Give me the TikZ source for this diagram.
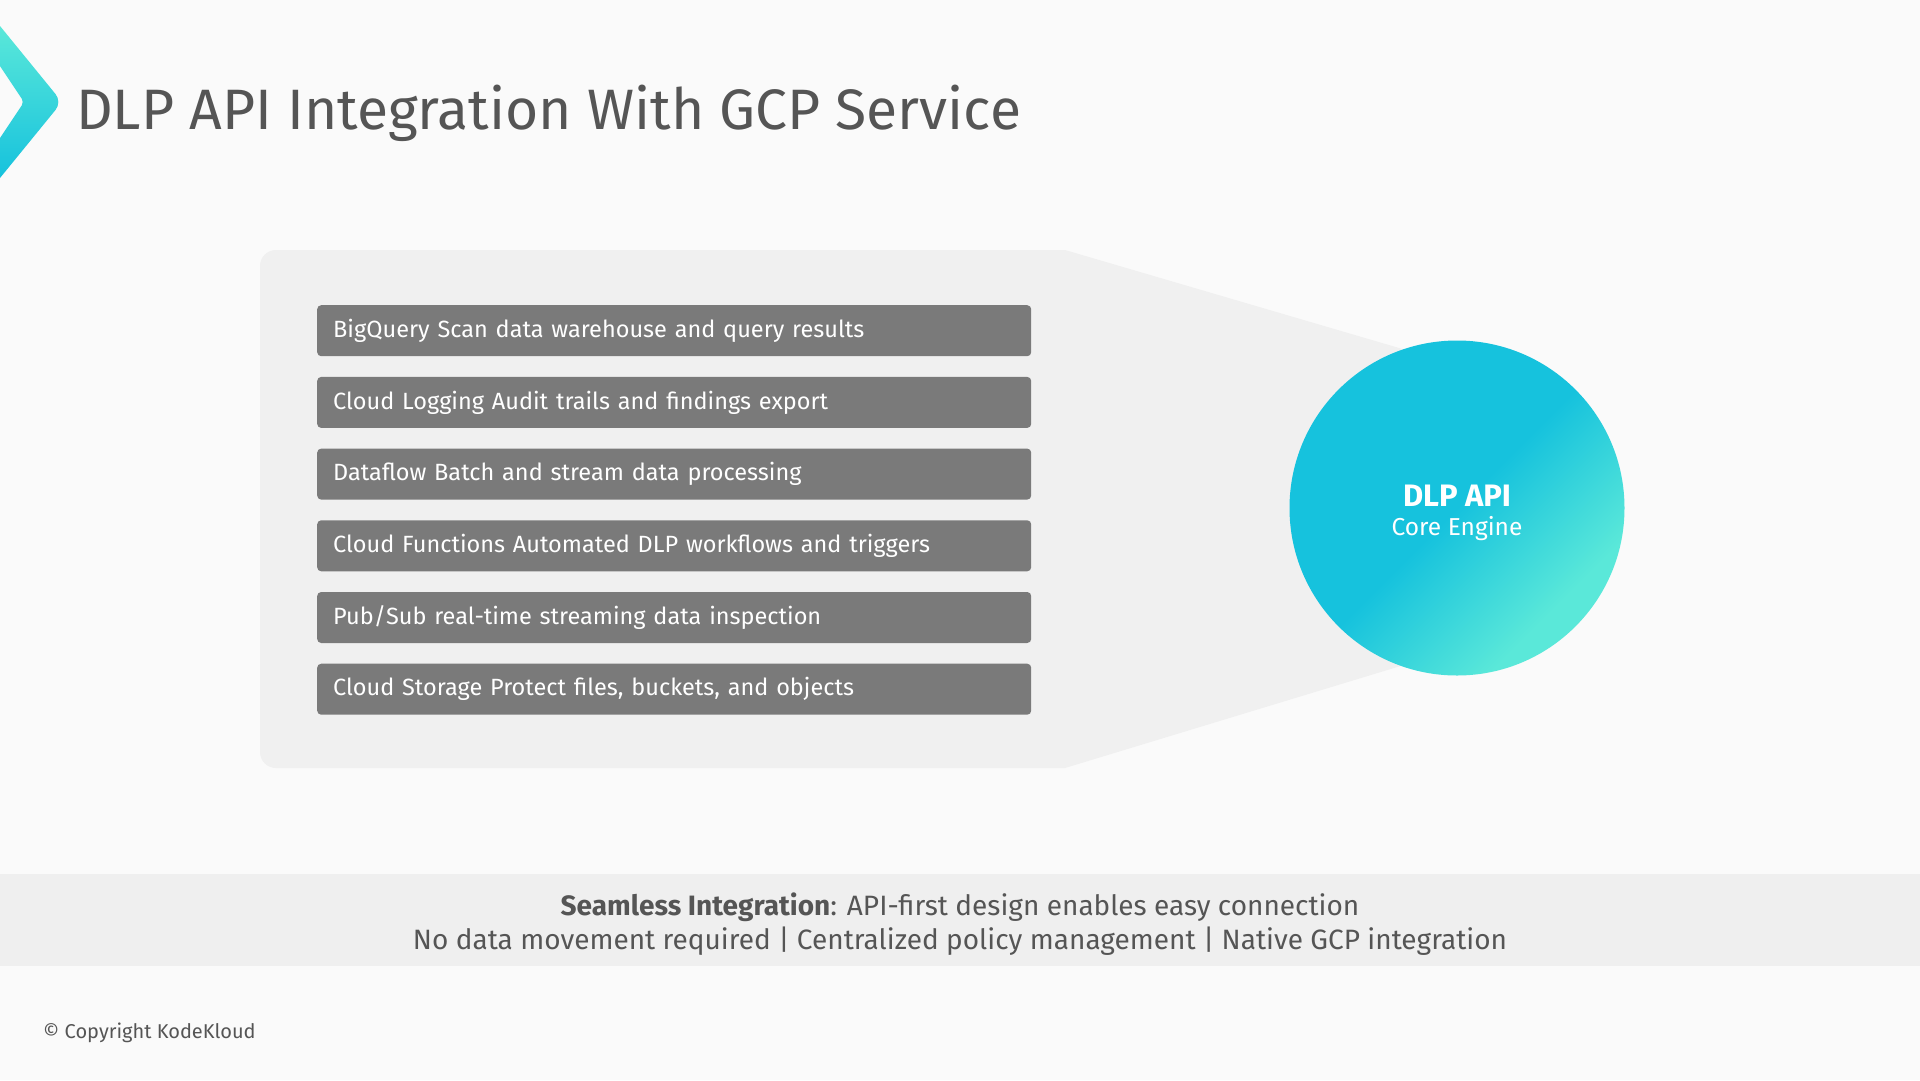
\documentclass[tikz,border=0pt]{standalone}
\usepackage{fontspec}
\setmainfont{Fira Sans}
\setsansfont{Fira Sans}
\usetikzlibrary{positioning}
\definecolor{pageCol}{RGB}{250, 250, 250}
\definecolor{panelCol}{RGB}{240, 240, 240}
\definecolor{bandCol}{RGB}{239, 239, 239}
\definecolor{boxCol}{RGB}{122, 122, 122}
\definecolor{textCol}{RGB}{85, 85, 85}
\definecolor{cyanCol}{RGB}{22, 194, 221}
\definecolor{aquaCol}{RGB}{90, 232, 217}
\pgfdeclarehorizontalshading{coreShade}{100bp}{color(0bp)=(cyanCol);
    color(50bp)=(cyanCol); color(71bp)=(aquaCol); color(100bp)=(aquaCol)}

\begin{document}
\begin{tikzpicture}[
    font=\sffamily,
    x=1pt, y=-1pt,
    node distance=20.3pt,
    svcBox/.style={fill=boxCol, rounded corners=4pt, text=white,
        minimum height=51pt, text width=682pt, inner xsep=16pt, align=left,
        font=\fontsize{23.5}{28}\selectfont},
    coreText/.style={text=white, inner sep=0pt},
    noteText/.style={text=textCol, inner sep=0pt, anchor=base,
        font=\fontsize{28}{33}\selectfont}
]

    % ---------------- page ----------------
    \useasboundingbox (0,0) rectangle (1920,1080);
    \fill[pageCol] (0,0) rectangle (1920,1080);

    % ---------------- title ----------------
    \shade[top color=aquaCol, bottom color=cyanCol]
        (0,26) [rounded corners=10pt] -- (62,102) [sharp corners] -- (0,178)
        -- (0,138) [rounded corners=4pt] -- (24,102) [sharp corners] -- (0,66) -- cycle;
    \node[anchor=base west, inner sep=0pt, text=textCol,
        font=\fontsize{57}{66}\selectfont] (title) at (76,129)
        {DLP API Integration With GCP Service};

    % ---------------- grey panel with funnel ----------------
    \fill[panelCol] (1065,250) -- (1440,360) -- (1440,654) -- (1065,768)
        [rounded corners=16pt] -- (260,768) -- (260,250) [sharp corners] -- cycle;

    % ---------------- GCP services ----------------
    \node[svcBox, anchor=north west] (bigquery) at (317,305)
        {BigQuery Scan data warehouse and query results};
    \node[svcBox, below=of bigquery] (logging)
        {Cloud Logging Audit trails and findings export};
    \node[svcBox, below=of logging] (dataflow)
        {Dataflow Batch and stream data processing};
    \node[svcBox, below=of dataflow] (functions)
        {Cloud Functions Automated DLP workflows and triggers};
    \node[svcBox, below=of functions] (pubsub)
        {Pub/Sub real-time streaming data inspection};
    \node[svcBox, below=of pubsub] (storage)
        {Cloud Storage Protect files, buckets, and objects};

    % ---------------- DLP API core ----------------
    \node[circle, minimum size=335pt, inner sep=0pt, shading=coreShade,
        shading angle=-45] (dlp) at (1457,508) {};
    \node[coreText, font=\fontsize{31}{36}\selectfont\bfseries] (dlpName)
        at (1457,496) {DLP API};
    \node[coreText, font=\fontsize{24.5}{29}\selectfont] (dlpRole)
        at (1457,529) {Core Engine};

    % ---------------- bottom band ----------------
    \fill[bandCol] (0,874) rectangle (1920,966);
    \node[noteText] (noteOne) at (960,915)
        {\textbf{Seamless Integration}: API-first design enables easy connection};
    \node[noteText] (noteTwo) at (960,949)
        {No data movement required | Centralized policy management | Native GCP integration};

    \node[anchor=base west, inner sep=0pt, text=textCol,
        font=\fontsize{20}{24}\selectfont] (copyright) at (43,1038)
        {© Copyright KodeKloud};

\end{tikzpicture}
\end{document}
